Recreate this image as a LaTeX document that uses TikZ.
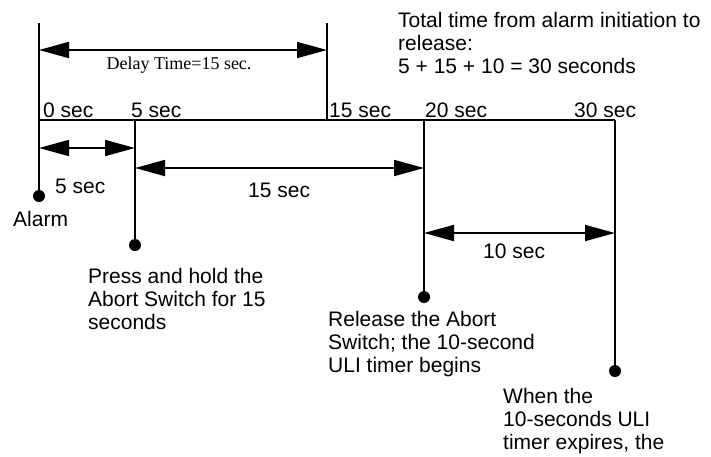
\documentclass[tikz,border=0pt]{standalone}
\usepackage{fontspec}
\setmainfont{Liberation Sans}
\newfontfamily\serifface{Liberation Serif}
\usetikzlibrary{arrows.meta, positioning}

\tikzset{
    line/.style={line width=2pt},
    dimline/.style={line width=1.8pt, {Triangle[length=30pt,width=16pt]}-{Triangle[length=30pt,width=16pt]}},
    dot/.style={circle, fill, inner sep=0pt, minimum size=12pt},
    lbl/.style={inner sep=0pt, font=\fontsize{21}{23}\selectfont},
    lblblock/.style={lbl, align=left, anchor=north west}
}

\begin{document}
\begin{tikzpicture}[x=1pt, y=-1pt]
    \useasboundingbox (0,0) rectangle (711,456);

    % Time marks on the line
    \coordinate (top0) at (39,23);
    \coordinate (top15) at (327,23);
    \coordinate (t0) at (39,120);
    \coordinate (t5) at (135,120);
    \coordinate (t15) at (327,120);
    \coordinate (t20) at (424,120);
    \coordinate (t30) at (615,120);

    % Event dots
    \node[dot] (alarm) at (39,196) {};
    \node[dot] (press) at (135,245) {};
    \node[dot] (release) at (424,297) {};
    \node[dot] (expire) at (615,371) {};

    % Time line and drop lines
    \draw[line] (t0) -- (t30);
    \draw[line] (top0) -- (alarm.center);
    \draw[line] (top15) -- (t15);
    \draw[line] (t5) -- (press.center);
    \draw[line] (t20) -- (release.center);
    \draw[line] (t30) -- (expire.center);

    % Delay span
    \coordinate (d0) at (39,50); \coordinate (d15) at (327,50);
    \draw[dimline] (d0) -- (d15);
    \node[inner sep=0pt, anchor=base, font=\serifface\fontsize{18}{20}\selectfont] (delay) at (179,69) {Delay Time=15 sec.};

    % Tick labels
    \node[lbl, anchor=base west] (l0) at (43,117) {0 sec};
    \node[lbl, anchor=base west] (l5) at (131,117) {5 sec};
    \node[lbl, anchor=base west] (l15) at (329,117) {15 sec};
    \node[lbl, anchor=base west] (l20) at (425,117) {20 sec};
    \node[lbl, anchor=base west] (l30) at (574,117) {30 sec};

    % Interval spans
    \coordinate (a0) at (39,148); \coordinate (a5) at (135,148);
    \draw[dimline] (a0) -- (a5);
    \node[lbl, anchor=base west] (s5) at (55,193) {5 sec};

    \coordinate (b5) at (135,168); \coordinate (b20) at (424,168);
    \draw[dimline] (b5) -- (b20);
    \node[lbl, anchor=base west] (s15) at (248,197) {15 sec};

    \coordinate (c20) at (424,233); \coordinate (c30) at (615,233);
    \draw[dimline] (c20) -- (c30);
    \node[lbl, anchor=base west] (s10) at (483,258) {10 sec};

    % Event texts
    \node[lbl, anchor=base west] (alarmtxt) at (13,226) {Alarm};
    \node[lblblock] (presstxt) at (88,268) {Press and hold the\\Abort Switch for 15\\seconds};
    \node[lblblock] (releasetxt) at (328,311) {Release the Abort\\Switch; the 10-second\\ULI timer begins};
    \node[lblblock] (expiretxt) at (503,388) {When the\\10-seconds ULI\\timer expires, the};

    % Total
    \node[lblblock] (total) at (398,12) {Total time from alarm initiation to\\release:\\5 + 15 + 10 = 30 seconds};
\end{tikzpicture}
\end{document}
